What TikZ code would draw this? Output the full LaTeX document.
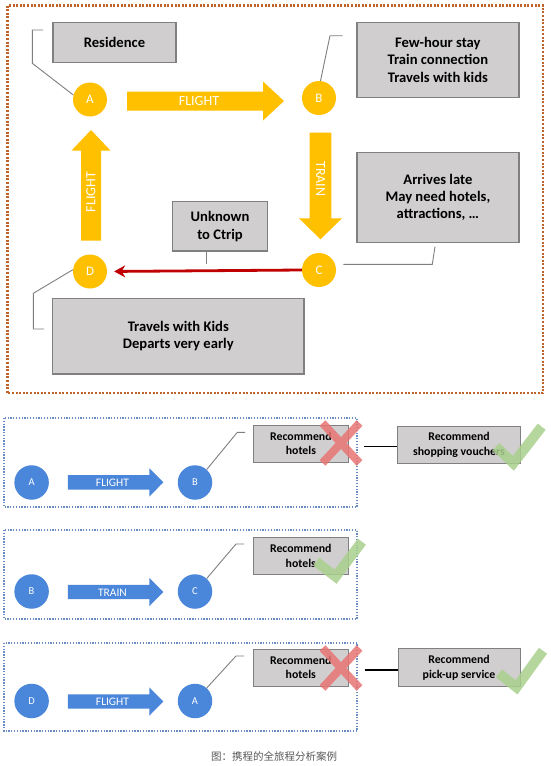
\documentclass[tikz,border=0pt]{standalone}
\usepackage{fontspec}
\setmainfont{Carlito}
\newfontfamily\cjk{Noto Sans CJK SC}
\usetikzlibrary{arrows.meta,calc}
\definecolor{gold}{HTML}{FFC000}
\definecolor{boxfill}{HTML}{D0CECE}
\definecolor{boxline}{HTML}{808080}
\definecolor{frameor}{HTML}{C0622A}
\definecolor{frameblue}{HTML}{6A8CC4}
\definecolor{nodeblue}{HTML}{4A86D9}
\definecolor{darkred}{HTML}{C00000}
\definecolor{xred}{HTML}{E87474}
\definecolor{okgreen}{HTML}{A9D18E}
\definecolor{conn}{HTML}{7F7F7F}
\definecolor{capgray}{HTML}{595959}
% horizontal block arrow: x0 x1 y bodyhalf headhalf headlen colour
\newcommand{\harrow}[7]{%
 \fill[#7] (#1,{#3-(#4)}) -- ({#2-(#6)},{#3-(#4)}) -- ({#2-(#6)},{#3-(#5)}) -- (#2,#3)
   -- ({#2-(#6)},{#3+(#5)}) -- ({#2-(#6)},{#3+(#4)}) -- (#1,{#3+(#4)}) -- cycle;}
% vertical block arrow: ytail ytip x bodyhalf headhalf headlen(signed) colour
\newcommand{\varrow}[7]{%
 \fill[#7] ({#3-(#4)},#1) -- ({#3-(#4)},{#2-(#6)}) -- ({#3-(#5)},{#2-(#6)}) -- (#3,#2)
   -- ({#3+(#5)},{#2-(#6)}) -- ({#3+(#4)},{#2-(#6)}) -- ({#3+(#4)},#1) -- cycle;}
\tikzset{
 infobox/.style={draw=boxline, fill=boxfill, line width=1.2pt, font=\fontsize{14.6}{17.3}\selectfont\bfseries, align=center, inner sep=0pt},
 smallbox/.style={draw=boxline, fill=boxfill, line width=1pt, font=\fontsize{11.8}{14.4}\selectfont\bfseries, align=center, inner sep=0pt},
 stopnode/.style={circle, fill=gold, minimum size=34pt, inner sep=0pt, text=white, font=\fontsize{13}{13}\selectfont},
 bstopnode/.style={circle, fill=nodeblue, minimum size=34.5pt, inner sep=0pt, text=white, font=\fontsize{10.5}{10.5}\selectfont},
 conline/.style={draw=conn, line width=0.9pt},
 arrlabel/.style={text=white, font=\fontsize{14}{14}\selectfont, inner sep=0pt},
 barrlabel/.style={text=white, font=\fontsize{11.5}{11.5}\selectfont, inner sep=0pt},
 crossmark/.style={draw=xred, line width=8pt, opacity=0.85},
 tickmark/.style={draw=okgreen, line width=10pt, opacity=0.85},
 topframe/.style={draw=frameor, line width=2.2pt, dash pattern=on 2pt off 1.6pt},
 panelframe/.style={draw=frameblue, line width=1.3pt, dash pattern=on 1.3pt off 1.5pt},
}
\begin{document}
\begin{tikzpicture}[x=1pt,y=-1pt]
\useasboundingbox (0,0) rectangle (551,766);
\fill[white] (0,0) rectangle (551,766);

% ---------- top frame ----------
\draw[topframe] (7.5,5.5) rectangle (543,393.3);

% boxes
\node[infobox, minimum width=123pt, minimum height=40pt] (res) at (114.5,42.8) {Residence};
\node[infobox, minimum width=162pt, minimum height=75pt] (few) at (437.9,59.8) {Few-hour stay\\Train connection\\Travels with kids};
\node[infobox, minimum width=162pt, minimum height=89.6pt] (late) at (437.9,197.5) {Arrives late\\May need hotels,\\attractions, \dots};
\node[infobox, minimum width=95.4pt, minimum height=49.3pt] (unk) at (220,226.4) {Unknown\\to Ctrip};
\node[infobox, minimum width=251.3pt, minimum height=75.5pt] (kids) at (178.3,336.2) {Travels with Kids\\Departs very early};

% block arrows
\harrow{127}{284}{101}{9.5}{19.5}{21}{gold}
\node[arrlabel] (fl1) at (199,101.5) {FLIGHT};
\varrow{132.7}{239.3}{320.5}{10.8}{21.5}{21}{gold}
\node[arrlabel, rotate=-90] (tr1) at (320.5,179) {TRAIN};
\varrow{240.7}{130}{91}{10}{19.6}{-20.7}{gold}
\node[arrlabel, rotate=90] (fl2) at (91,192) {FLIGHT};

% stops
\node[stopnode] (A) at (90,99.5) {A};
\node[stopnode] (B) at (319,98) {B};
\node[stopnode] (C) at (319,270) {C};
\node[stopnode] (D) at (90,271.5) {D};

% red arrow C -> D
\draw[darkred, line width=2.8pt, shorten >=7pt, -{Stealth[length=11pt,width=12pt]}] (C.west) -- (D.east);

% callout connectors
\coordinate (resA) at (32.3,63.3); \coordinate (resB) at (32.3,30); \coordinate (resC) at (43,30);
\draw[conline] (A.165) -- (resA) -- (resB) -- (resC);
\coordinate (fewA) at (330,35.7); \coordinate (fewB) at (342.7,35.7);
\draw[conline] (B.85) -- (fewA) -- (fewB);
\coordinate (lateA) at (343.3,264.3); \coordinate (lateB) at (432.3,264.3); \coordinate (lateC) at (435,246.7);
\draw[conline] (lateA) -- (lateB) -- (lateC);
\coordinate (unkA) at (206.6,251); \coordinate (unkB) at (206.6,264);
\draw[conline] (unkA) -- (unkB);
\coordinate (kidA) at (33.3,293.3); \coordinate (kidB) at (33.3,329); \coordinate (kidC) at (44,329);
\draw[conline] (D.174) -- (kidA) -- (kidB) -- (kidC);

% ---------- panel 1 ----------
\draw[panelframe] (4,418) rectangle (357,507);
\harrow{67.8}{163.4}{482.3}{7.2}{14.2}{14.1}{nodeblue}
\node[barrlabel] (pf1) at (112.5,482.8) {FLIGHT};
\node[bstopnode] (pA1) at (31.6,482.5) {A};
\node[bstopnode] (pB1) at (195,482.5) {B};
\node[smallbox, minimum width=95.2pt, minimum height=37pt] (h1) at (300.9,443.5) {Recommend\\hotels};
\node[smallbox, minimum width=123.4pt, minimum height=37.3pt] (s1) at (459,444.7) {Recommend\\shopping vouchers};
\coordinate (p1a) at (237.3,432.3); \coordinate (p1b) at (245,432.3);
\draw[conline] (pB1.48) -- (p1a) -- (p1b);
\coordinate (l1) at (364,446.5);
\draw[black, line width=1.5pt] (l1) -- (l1 -| s1.west);
\draw[crossmark] (322.5,423) -- (359.5,463) (359.5,423) -- (322.5,463);
\draw[tickmark] (496,446.7) -- (513.3,463.3) -- (541.7,426.7);

% ---------- panel 2 ----------
\draw[panelframe] (4,530) rectangle (357,619);
\harrow{67.8}{163.4}{592}{7.2}{14.2}{14.1}{nodeblue}
\node[barrlabel] (pt2) at (112.5,592.5) {TRAIN};
\node[bstopnode] (pB2) at (31.6,591.5) {B};
\node[bstopnode] (pC2) at (195,591.5) {C};
\node[smallbox, minimum width=95.6pt, minimum height=37pt] (h2) at (300.8,555.8) {Recommend\\hotels};
\coordinate (p2a) at (236,544); \coordinate (p2b) at (244.2,544);
\draw[conline] (pC2.48) -- (p2a) -- (p2b);
\draw[tickmark] (316.2,561.7) -- (335.6,576.7) -- (361.9,541.7);

% ---------- panel 3 ----------
\draw[panelframe] (4,643) rectangle (357,731);
\harrow{67.8}{163.4}{701.5}{7.2}{14.2}{14.1}{nodeblue}
\node[barrlabel] (pf3) at (112.5,702) {FLIGHT};
\node[bstopnode] (pD3) at (31.6,701) {D};
\node[bstopnode] (pA3) at (195,701) {A};
\node[smallbox, minimum width=95.6pt, minimum height=37pt] (h3) at (300.8,667.5) {Recommend\\hotels};
\node[smallbox, minimum width=122pt, minimum height=37.7pt] (s3) at (459,667.8) {Recommend\\pick-up service};
\coordinate (p3a) at (236,656); \coordinate (p3b) at (244.2,656);
\draw[conline] (pA3.48) -- (p3a) -- (p3b);
\coordinate (l3) at (364.7,670);
\draw[black, line width=1.5pt] (l3) -- (l3 -| s3.west);
\draw[crossmark] (322.5,648) -- (359.5,688) (359.5,648) -- (322.5,688);
\draw[tickmark] (499,673.3) -- (516.5,687.3) -- (543,650.7);

% caption
\node[font=\cjk\fontsize{10.5}{10.5}\selectfont, text=capgray, inner sep=0pt] (cap) at (274,756.5) {图：携程的全旅程分析案例};
\end{tikzpicture}
\end{document}
